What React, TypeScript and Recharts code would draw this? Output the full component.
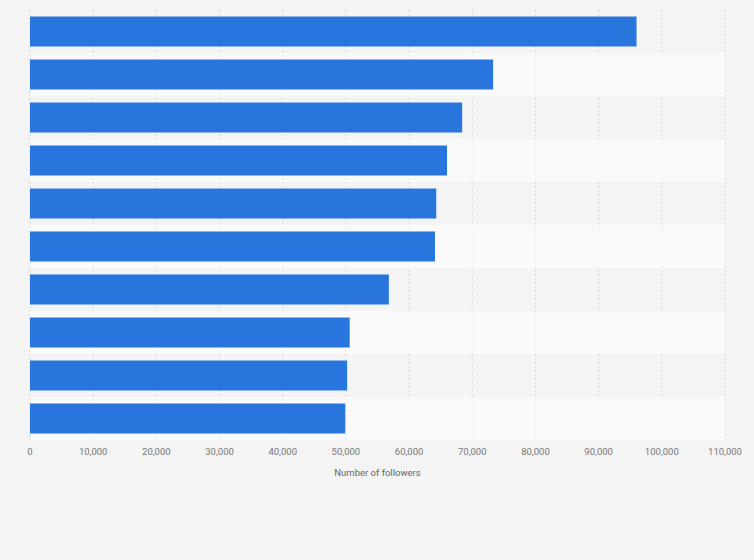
import { Bar, BarChart, CartesianGrid, XAxis, YAxis } from "recharts";

const accounts = ["A1", "A2", "A3", "A4", "A5", "A6", "A7", "A8", "A9", "A10"];
const followers = [96000, 73300, 68400, 66000, 64300, 64100, 56800, 50600, 50200, 49900];
const xTicks = [0, 10000, 20000, 30000, 40000, 50000, 60000, 70000, 80000, 90000, 100000, 110000];

const data = accounts.map((name, i) => ({ name, value: followers[i] }));

function BandBackground(props: any) {
  const { x, y, width, height, index } = props;
  const band = height / 0.7;
  const top = y - band * 0.15;
  return <rect x={x} y={top} width={width} height={band} fill="#ffffff" fillOpacity={index % 2 === 0 ? 0 : 0.55} />;
}

export default function App() {
  return (
    <div style={{ position: "absolute", left: 0, top: 0, width: 754, height: 560, background: "#f4f4f4", fontFamily: "Roboto, sans-serif" }}>
      <BarChart
        width={754}
        height={560}
        data={data}
        layout="vertical"
        margin={{ top: 10, right: 29, bottom: 80, left: 30 }}
        barCategoryGap="15%"
      >
        <CartesianGrid horizontal={false} stroke="#d6d6d6" strokeDasharray="2 2" />
        <XAxis
          type="number"
          domain={[0, 110000]}
          ticks={xTicks}
          interval={0}
          axisLine={false}
          tickLine={false}
          tick={{ fontSize: 9.5, fill: "#777" }}
          tickFormatter={(v) => Number(v).toLocaleString("en-US")}
          label={{ value: "Number of followers", position: "insideBottom", offset: 4, fontSize: 9.5, fill: "#666" }}
          height={40}
        />
        <YAxis type="category" dataKey="name" width={0} tick={false} tickLine={false} axisLine={{ stroke: "#333" }} />
        <Bar dataKey="value" fill="#2876dd" isAnimationActive={false} background={<BandBackground />} />
      </BarChart>
    </div>
  );
}
